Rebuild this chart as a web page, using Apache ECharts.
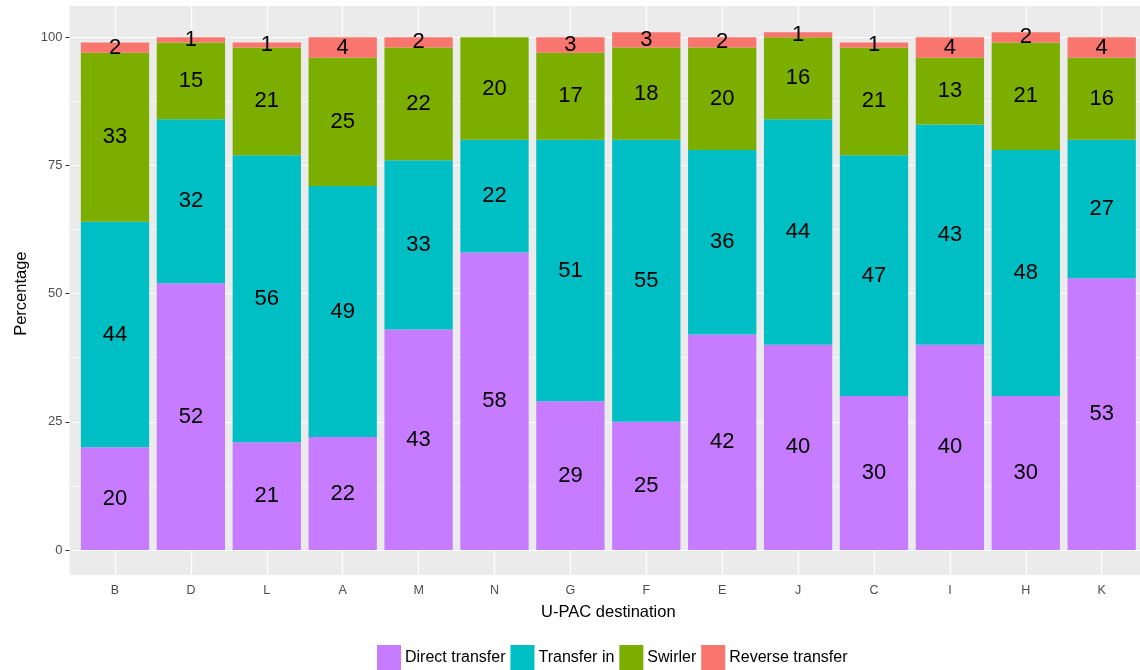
<!DOCTYPE html>
<html><head><meta charset="utf-8">
<script src="https://cdn.jsdelivr.net/npm/echarts@6/dist/echarts.min.js"></script>
<style>html,body{margin:0;padding:0;background:#fff}#c{width:1140px;height:670px}</style>
</head><body><div id="c"></div>
<script>
const categories = ['B','D','L','A','M','N','G','F','E','J','C','I','H','K'];
const directTransfer  = [20,52,21,22,43,58,29,25,42,40,30,40,30,53];
const transferIn      = [44,32,56,49,33,22,51,55,36,44,47,43,48,27];
const swirler         = [33,15,21,25,22,20,17,18,20,16,21,13,21,16];
const reverseTransfer = [2,1,1,4,2,null,3,3,2,1,1,4,2,4];
const yTicks = [0,25,50,75,100];
const seriesNames = ['Direct transfer','Transfer in','Swirler','Reverse transfer'];
const seriesColors = ['#C77CFF','#00BFC4','#7CAE00','#F8766D'];
const seriesValues = [directTransfer, transferIn, swirler, reverseTransfer];

const chart = echarts.init(document.getElementById('c'), null, {renderer:'canvas'});
const FONT = 'Liberation Sans, Arial, sans-serif';

const barSeries = seriesNames.map((n,i)=>({
  name:n, type:'bar', stack:'total', xAxisIndex:1, yAxisIndex:1,
  barWidth:'90%', z:3,
  itemStyle:{color:seriesColors[i]},
  label:{show:true, position:'inside', color:'#000', fontSize:22, fontFamily:FONT,
    formatter:p=>p.value==null?'':String(p.value)},
  data: seriesValues[i]
}));

chart.setOption({
  animation:false,
  textStyle:{fontFamily:FONT},
  graphic:[{type:'rect', z:-10, shape:{x:69.5,y:6,width:1076,height:569}, style:{fill:'#EBEBEB'}, silent:true}],
  grid:[
    {left:69.5, top:37.3, width:1076, height:512.7, containLabel:false},
    {left:77.05, top:6, width:1062.6, height:569, containLabel:false}
  ],
  xAxis:[
    {type:'value', gridIndex:0, show:false, min:0, max:1},
    {type:'category', gridIndex:1, data:categories, boundaryGap:true,
     axisLine:{show:false},
     axisTick:{show:true, alignWithLabel:true, length:4, lineStyle:{color:'#333', width:1}},
     axisLabel:{color:'#4D4D4D', fontSize:12.5, margin:9, fontFamily:FONT},
     splitLine:{show:false},
     name:'U-PAC destination', nameLocation:'middle', nameGap:29,
     nameTextStyle:{color:'#000', fontSize:16.5, fontFamily:FONT}},
    {type:'category', gridIndex:1, data:categories, boundaryGap:true,
     axisLine:{show:false}, axisLabel:{show:false}, splitLine:{show:false},
     axisTick:{show:true, inside:true, alignWithLabel:true, length:569, lineStyle:{color:'#fff', width:1.2}}}
  ],
  yAxis:[
    {type:'value', gridIndex:0, min:0, max:100, interval:25,
     axisLine:{show:false},
     axisTick:{show:true, length:4, lineStyle:{color:'#333', width:1}},
     axisLabel:{color:'#4D4D4D', fontSize:13, margin:7, fontFamily:FONT},
     splitLine:{show:true, lineStyle:{color:'#fff', width:1.2}},
     minorTick:{show:false, splitNumber:2},
     minorSplitLine:{show:true, lineStyle:{color:'#fff', width:0.6}},
     name:'Percentage', nameLocation:'middle', nameGap:40, nameRotate:90,
     nameTextStyle:{color:'#000', fontSize:16.5, fontFamily:FONT}},
    {type:'value', gridIndex:1, min:-4.9, max:106.1, show:false, splitLine:{show:false}}
  ],
  legend:{
    data:seriesNames, left:377, top:645, padding:0, itemWidth:24, itemHeight:25, itemGap:5,
    icon:'rect', textStyle:{color:'#000', fontSize:16, fontFamily:FONT, padding:[0,0,0,-1]},
    selectedMode:false
  },
  series: barSeries
});
</script></body></html>
